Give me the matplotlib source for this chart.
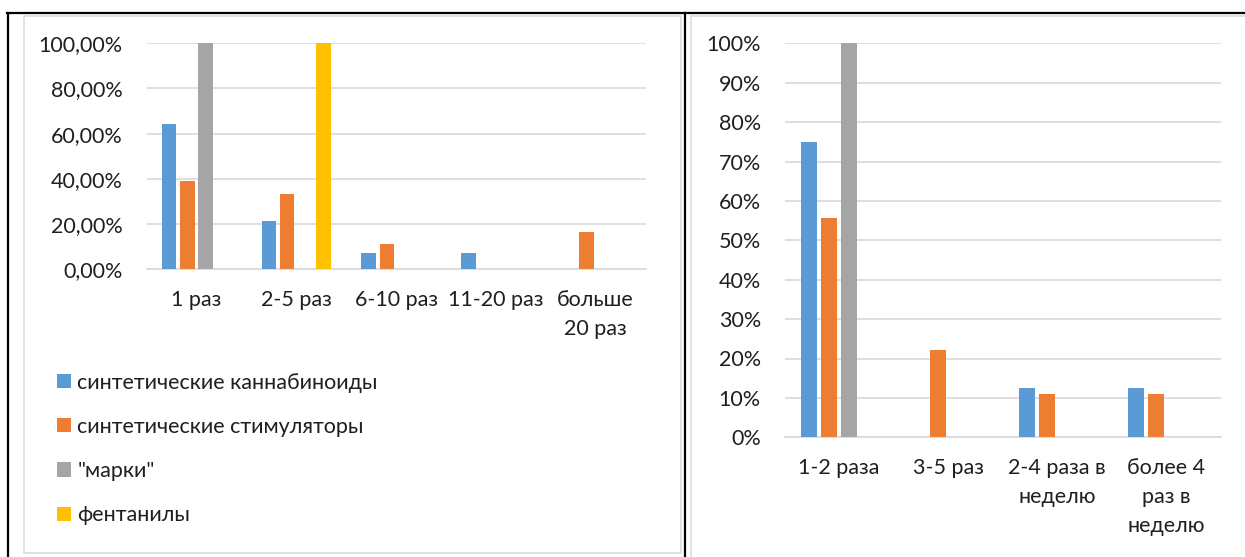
import matplotlib
matplotlib.use('Agg')
import matplotlib.pyplot as plt
from matplotlib.lines import Line2D
from matplotlib.patches import Rectangle
from matplotlib.ticker import FuncFormatter
import numpy as np

W, H = 1245, 557

# данные: частота употребления по группам веществ, %
left_cats = ['1 раз', '2-5 раз', '6-10 раз', '11-20 раз', 'больше\n20 раз']
right_cats = ['1-2 раза', '3-5 раз', '2-4 раза в\nнеделю', 'более 4\nраз в\nнеделю']
series_names = ['синтетические каннабиноиды', 'синтетические стимуляторы', '"марки"', 'фентанилы']
colors = ['#5B9BD5', '#ED7D31', '#A5A5A5', '#FFC000']

left_cannab = [64.29, 21.43, 7.14, 7.14, 0]
left_stim = [38.89, 33.33, 11.11, 0, 16.67]
left_marki = [100, 0, 0, 0, 0]
left_fent = [0, 100, 0, 0, 0]

right_cannab = [75, 0, 12.5, 12.5]
right_stim = [55.56, 22.22, 11.11, 11.11]
right_marki = [100, 0, 0, 0]
right_fent = [0, 0, 0, 0]

FONT = 'Lato'
FS = 15.5
TXT = '#1f1f1f'
GRID = '#D9D9D9'

plt.rcParams['font.family'] = [FONT, 'DejaVu Sans']


def px_axes(fig, x0, y0, x1, y1):
    return fig.add_axes([x0 / W, 1 - y1 / H, (x1 - x0) / W, (y1 - y0) / H])


def hline(fig, x0, x1, y, color, lw):
    fig.add_artist(Line2D([x0 / W, x1 / W], [1 - y / H, 1 - y / H],
                          transform=fig.transFigure, color=color, lw=lw))


def vline(fig, x, y0, y1, color, lw):
    fig.add_artist(Line2D([x / W, x / W], [1 - y0 / H, 1 - y1 / H],
                          transform=fig.transFigure, color=color, lw=lw))


def draw_chart(ax, cats, series, fmt, step):
    slot = 0.183
    width = 0.146
    x = np.arange(len(cats))
    bars = []
    for i, vals in enumerate(series):
        b = ax.bar(x + (i - 1.5) * slot, vals, width, color=colors[i],
                   linewidth=0, zorder=3)
        bars.append(b)
    ax.set_xlim(-0.5, len(cats) - 0.5)
    ax.set_ylim(0, 100)
    ax.set_yticks(np.arange(0, 101, step))
    ax.yaxis.set_major_formatter(FuncFormatter(fmt))
    ax.set_xticks(x)
    ax.set_xticklabels(cats, linespacing=1.55)
    ax.yaxis.grid(True, color=GRID, linewidth=1.2, zorder=0)
    ax.set_axisbelow(True)
    for s in ['top', 'left', 'right']:
        ax.spines[s].set_visible(False)
    ax.spines['bottom'].set_color(GRID)
    ax.spines['bottom'].set_linewidth(1.2)
    ax.tick_params(axis='both', length=0, labelsize=FS, labelcolor=TXT)
    ax.tick_params(axis='y', pad=17)
    ax.tick_params(axis='x', pad=15)
    return bars


fig = plt.figure(figsize=(W / 100, H / 100), dpi=100)

# рамки таблицы и областей диаграмм
fig.add_artist(Rectangle((24 / W, 1 - 553 / H), (681 - 24) / W, (553 - 16) / H,
                         transform=fig.transFigure, fill=False,
                         edgecolor=GRID, lw=1.1))
hline(fig, 691, W + 5, 16, GRID, 1.1)
vline(fig, 691, 16, H + 5, GRID, 1.1)
hline(fig, 7, W + 5, 13, 'black', 1.6)
vline(fig, 7.5, 13, H + 5, 'black', 1.6)
vline(fig, 685, 13, H + 5, 'black', 1.6)

ax1 = px_axes(fig, 146.5, 43.3, 645.5, 269.3)
bars = draw_chart(ax1, left_cats,
                  [left_cannab, left_stim, left_marki, left_fent],
                  lambda v, p: f'{v:.2f}'.replace('.', ',') + '%', 20)

ax2 = px_axes(fig, 784.5, 43.3, 1220.5, 437.3)
draw_chart(ax2, right_cats,
           [right_cannab, right_stim, right_marki, right_fent],
           lambda v, p: f'{v:.0f}%', 10)

fig.legend(bars, series_names, loc='center left',
           bbox_to_anchor=(57 / W, 1 - 449 / H), bbox_transform=fig.transFigure,
           frameon=False, borderpad=0, borderaxespad=0,
           handlelength=0.65, handleheight=0.65, handletextpad=0.3,
           labelspacing=1.13, fontsize=FS, labelcolor=TXT)

fig.savefig('out.png', dpi=100)
